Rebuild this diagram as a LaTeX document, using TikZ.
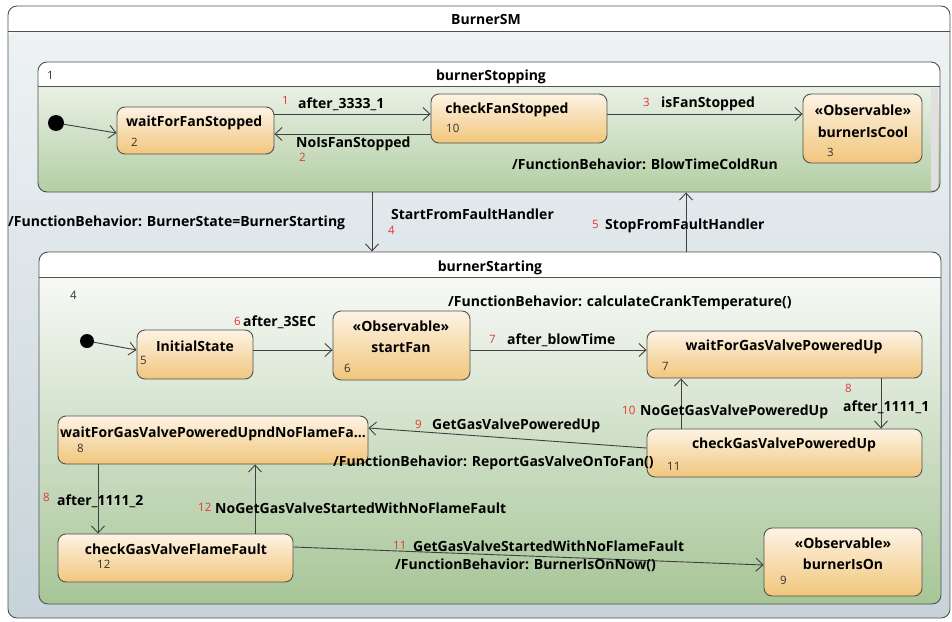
\documentclass[tikz,border=0pt]{standalone}
\usepackage{fontspec}
\setmainfont{Open Sans}
\usetikzlibrary{arrows.meta}
\definecolor{edge}{HTML}{404040}
\definecolor{bord}{HTML}{505050}
\definecolor{rednum}{HTML}{E03838}
\definecolor{stTop}{HTML}{FDF3E4}
\definecolor{stBot}{HTML}{F1C67C}
\definecolor{outTop}{HTML}{EEF2F4}
\definecolor{outBot}{HTML}{C6D3D8}
\definecolor{gTop}{HTML}{EAF1E6}
\definecolor{gBot}{HTML}{B3CEA4}
\definecolor{g2Top}{HTML}{F7F9F6}
\definecolor{g2Bot}{HTML}{A7C597}
\begin{document}
\begin{tikzpicture}[x=1pt,y=-1pt,
  font=\bfseries\fontsize{14}{16}\selectfont,
  state/.style={draw=bord, line width=0.9pt, rounded corners=8pt, top color=stTop, bottom color=stBot, inner sep=0pt},
  frame/.style={draw=bord, line width=0.9pt, rounded corners=9pt, inner sep=0pt},
  tr/.style={draw=edge, line width=0.9pt, -{Straight Barb[length=7pt,width=13pt,line width=0.9pt]}},
  lbl/.style={anchor=west, inner sep=0pt, text=black, yshift=-1.5pt},
  ctr/.style={anchor=center, inner sep=0pt, text=black, yshift=-1.5pt},
  rn/.style={anchor=west, inner sep=0pt, text=rednum, font=\fontsize{11.5}{13}\selectfont},
  sn/.style={anchor=west, inner sep=0pt, text=black!80, font=\fontsize{11.5}{13}\selectfont},
  dot/.style={circle, fill=black, inner sep=0pt}
]
\useasboundingbox (0,0) rectangle (952,621);
\fill[white] (0,0) rectangle (952,621);

% ---------- outer frame BurnerSM ----------
\shade[top color=outTop, bottom color=outBot, rounded corners=9pt] (8,31) [sharp corners] -- (950,31) [rounded corners=9pt] -- (950,618) -- (8,618) -- cycle;
\fill[white] (8,31) [rounded corners=9pt] -- (8,6) -- (950,6) [sharp corners] -- (950,31) -- cycle;
\node[frame, minimum width=942pt, minimum height=612pt] (sm) at (479,312) {};
\draw[bord, line width=0.9pt] (sm.west |- 0,31) -- (sm.east |- 0,31);
\node[ctr] (smt) at (486,18) {BurnerSM};

% ---------- burnerStopping ----------
\shade[top color=gTop, bottom color=gBot] (38,86) [sharp corners] -- (940,86) [rounded corners=9pt] -- (940,192) -- (38,192) [sharp corners] -- cycle;
\fill[white] (38,86) [rounded corners=9pt] -- (38,62) -- (940,62) [sharp corners] -- (940,86) -- cycle;
\fill[black!12] (931,88) rectangle (938,190);
\node[frame, minimum width=902pt, minimum height=130pt] (stop) at (489,127) {};
\draw[bord, line width=0.9pt] (stop.west |- 0,86) -- (stop.east |- 0,86);
\node[ctr] (stopt) at (491,75) {burnerStopping};
\node[sn] (stopn) at (47,75) {1};

% ---------- burnerStarting ----------
\shade[top color=g2Top, bottom color=g2Bot] (39,277) [sharp corners] -- (941,277) [rounded corners=9pt] -- (941,604) -- (39,604) [sharp corners] -- cycle;
\fill[white] (39,277) [rounded corners=9pt] -- (39,252) -- (941,252) [sharp corners] -- (941,277) -- cycle;
\node[frame, minimum width=902pt, minimum height=352pt] (start) at (490,428) {};
\draw[bord, line width=0.9pt] (start.west |- 0,277) -- (start.east |- 0,277);
\node[ctr] (startt) at (490,266) {burnerStarting};
\node[sn] (startn) at (70,295) {4};

% ---------- states in burnerStopping ----------
\node[dot, minimum size=16pt] (ini1) at (56,123) {};
\node[state, minimum width=157pt, minimum height=47pt] (wffs) at (195.5,130.5) {};
\node[lbl] (wffst) at (126,121) {waitForFanStopped};
\node[sn] (wffsn) at (131,142) {2};

\node[state, minimum width=176pt, minimum height=49pt] (cfs) at (519,118.5) {};
\node[ctr] (cfst) at (507,108) {checkFanStopped};
\node[sn] (cfsn) at (446,128) {10};

\node[state, minimum width=119pt, minimum height=69pt] (bic) at (862.5,128.5) {};
\node[ctr] (bics) at (863,109) {«Observable»};
\node[ctr] (bict) at (863,131) {burnerIsCool};
\node[sn] (bicn) at (827,152) {3};

% ---------- states in burnerStarting ----------
\node[dot, minimum size=14pt] (ini2) at (87,341) {};
\node[state, minimum width=116pt, minimum height=49pt] (init) at (195,354.5) {};
\node[ctr] (initt) at (195,345) {InitialState};
\node[sn] (initn) at (140,360) {5};

\node[state, minimum width=137pt, minimum height=69pt] (sf) at (401.5,345.5) {};
\node[ctr] (sfs) at (401,325) {«Observable»};
\node[ctr] (sft) at (401,346) {startFan};
\node[sn] (sfn) at (344,368) {6};

\node[state, minimum width=275pt, minimum height=47pt] (wgv) at (784.5,354.5) {};
\node[ctr] (wgvt) at (784,345) {waitForGasValvePoweredUp};
\node[sn] (wgvn) at (662,366) {7};

\node[state, minimum width=275pt, minimum height=48pt] (cgv) at (784.5,453) {};
\node[ctr] (cgvt) at (784,443) {checkGasValvePoweredUp};
\node[sn] (cgvn) at (667,466) {11};

\node[state, minimum width=310pt, minimum height=48pt] (w8) at (213,440) {};
\node[lbl] (w8t) at (60,432) {waitForGasValvePoweredUpndNoFlameFa...};
\node[sn] (w8n) at (77,448) {8};

\node[state, minimum width=235pt, minimum height=48pt] (cgf) at (175.5,558) {};
\node[ctr] (cgft) at (176,548) {checkGasValveFlameFault};
\node[sn] (cgfn) at (97,564) {12};

\node[state, minimum width=158pt, minimum height=68pt] (bio) at (843,562) {};
\node[ctr] (bios) at (843,542) {«Observable»};
\node[ctr] (biot) at (843,563) {burnerIsOn};
\node[sn] (bion) at (780,580) {9};

% ---------- transitions ----------
\draw[tr] (ini1) -- (wffs.west |- 0,133);
\draw[tr] (wffs.east |- 0,114) -- (cfs.west |- 0,114);
\draw[tr] (cfs.west |- 0,134) -- (wffs.east |- 0,134);
\draw[tr] (cfs.east |- 0,114) -- (bic.west |- 0,114);
\draw[tr] (stop.south -| 372,0) -- (start.north -| 372,0);
\draw[tr] (start.north -| 686,0) -- (stop.south -| 686,0);
\draw[tr] (ini2) -- (init.west |- 0,350);
\draw[tr] (init.east |- 0,350) -- (sf.west |- 0,350);
\draw[tr] (sf.east |- 0,350) -- (wgv.west |- 0,350);
\draw[tr] (wgv.south -| 881,0) -- (cgv.north -| 881,0);
\draw[tr] (cgv.north -| 681,0) -- (wgv.south -| 681,0);
\draw[tr] (cgv.west |- 0,448) -- (w8.east |- 0,428);
\draw[tr] (w8.south -| 98,0) -- (cgf.north -| 98,0);
\draw[tr] (cgf.north -| 255,0) -- (w8.south -| 255,0);
\draw[tr] (cgf.east |- 0,547) -- (bio.west |- 0,565);

% ---------- transition labels ----------
\node[rn] (n1) at (282,100) {1};
\node[lbl] (t1) at (298,103) {after\_3333\_1};
\node[lbl] (t2) at (296,142) {NoIsFanStopped};
\node[rn] (n2) at (299,157) {2};
\node[rn] (n3) at (643,102) {3};
\node[lbl] (t3) at (661,102) {isFanStopped};
\node[lbl] (b1) at (512,163) {/FunctionBehavior: BlowTimeColdRun};
\node[lbl] (b2) at (8,221) {/FunctionBehavior: BurnerState=BurnerStarting};
\node[lbl] (t4) at (391,213) {StartFromFaultHandler};
\node[rn] (n4) at (388,230) {4};
\node[rn] (n5) at (592,224) {5};
\node[lbl] (t5) at (605,224) {StopFromFaultHandler};
\node[rn] (n6) at (234,321) {6};
\node[lbl] (t6) at (243,321) {after\_3SEC};
\node[lbl] (b3) at (448,301) {/FunctionBehavior: calculateCrankTemperature()};
\node[rn] (n7) at (489,339) {7};
\node[lbl] (t7) at (507,339) {after\_blowTime};
\node[rn] (n8) at (845,388) {8};
\node[lbl] (t8) at (843,406) {after\_1111\_1};
\node[rn] (n10) at (622,410) {10};
\node[lbl] (t10) at (640,410) {NoGetGasValvePoweredUp};
\node[rn] (n9) at (415,424) {9};
\node[lbl] (t9) at (432,424) {GetGasValvePoweredUp};
\node[lbl] (b4) at (333,461) {/FunctionBehavior: ReportGasValveOnToFan()};
\node[rn] (n8b) at (43,497) {8};
\node[lbl] (t8b) at (57,500) {after\_1111\_2};
\node[rn] (n12) at (198,507) {12};
\node[lbl] (t12) at (215,507) {NoGetGasValveStartedWithNoFlameFault};
\node[rn] (n11) at (393,545) {11};
\node[lbl] (t11) at (413,545) {GetGasValveStartedWithNoFlameFault};
\node[lbl] (b5) at (395,564) {/FunctionBehavior: BurnerIsOnNow()};
\end{tikzpicture}
\end{document}
